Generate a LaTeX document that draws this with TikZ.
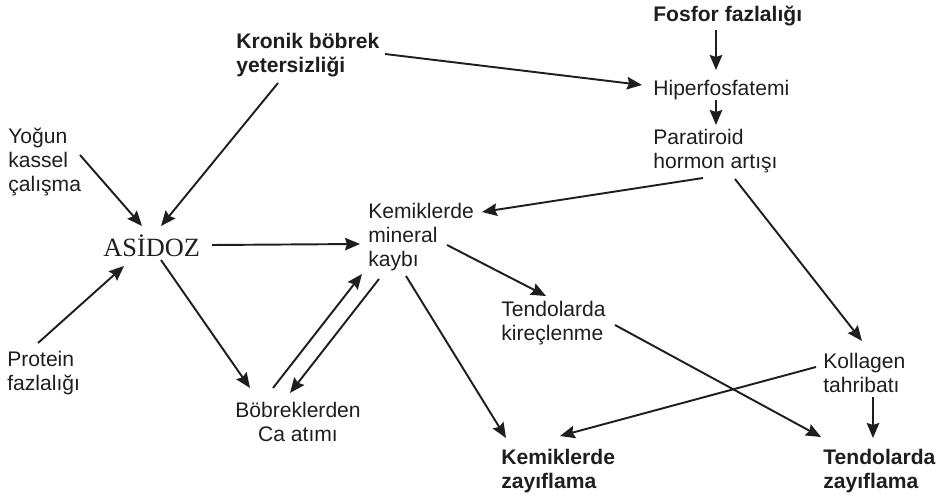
\documentclass[tikz,border=0pt]{standalone}
\usepackage{fontspec}
\setmainfont{Liberation Sans}
\newfontfamily\serifasit{Liberation Serif}
\usepackage{tikz}
\usetikzlibrary{arrows.meta}
\definecolor{ink}{RGB}{30,30,30}

\tikzset{
  lbl/.style={inner sep=0pt,anchor=west,align=left,text=ink,font=\fontsize{12}{13.9}\selectfont},
  lblb/.style={lbl,font=\fontsize{12}{13.9}\selectfont\bfseries},
  arr/.style={draw=ink,line width=1.1pt,-{Stealth[length=0.3cm,width=0.25cm,inset=0.04cm]}}
}

\begin{document}
\begin{tikzpicture}[x=0.02cm,y=-0.02cm]
  \useasboundingbox (0,0) rectangle (944,500);
  % causes
  \node[lblb] (fosfor) at (653,16) {Fosfor fazlalığı};
  \node[lbl] (hiper) at (653,90) {Hiperfosfatemi};
  \node[lbl] (para) at (653,151) {Paratiroid\\hormon artışı};
  \node[lblb] (kronik) at (236,55) {Kronik böbrek\\yetersizliği};
  \node[lbl] (yogun) at (8,162) {Yoğun\\kassel\\çalışma};
  \node[lbl] (protein) at (7,373) {Protein\\fazlalığı};
  \node[inner sep=0pt,anchor=west,text=ink,font=\serifasit\fontsize{15}{17}\selectfont] (asidoz) at (103,246) {ASİDOZ};
  % effects
  \node[lbl] (kemmin) at (368,237) {Kemiklerde\\mineral\\kaybı};
  \node[lbl,anchor=center,align=center] (bobrek) at (298,422) {Böbreklerden\\Ca atımı};
  \node[lbl] (tenkir) at (501,323) {Tendolarda\\kireçlenme};
  \node[lbl] (kollagen) at (823,373) {Kollagen\\tahribatı};
  \node[lblb] (kemzay) at (501,471) {Kemiklerde\\zayıflama};
  \node[lblb] (tenzay) at (823,471) {Tendolarda\\zayıflama};

  \foreach \a/\p/\b/\q in {
    fosfor.west/{63,14}/hiper.west/{63,-20},
    hiper.west/{63,10}/para.west/{63,-26},
    kronik.west/{149,-1}/hiper.west/{-11,-5},
    kronik.west/{42,28}/asidoz.west/{58,-20},
    yogun.west/{72,-7}/asidoz.west/{39,-20},
    protein.west/{31,-30}/asidoz.west/{21,20},
    asidoz.west/{109,-1}/kemmin.west/{-8,7},
    asidoz.west/{58,14}/bobrek.center/{-48,-34},
    bobrek.center/{-25,-34}/kemmin.west/{-6,37},
    kemmin.west/{11,42}/bobrek.center/{-8,-29},
    para.west/{50,27}/kemmin.west/{114,-25},
    para.west/{82,28}/kollagen.west/{39,-32},
    kemmin.west/{79,8}/tenkir.west/{45,-27},
    kemmin.west/{38,39}/kemzay.west/{5,-33},
    tenkir.west/{114,2}/tenzay.west/{-2,-34},
    kollagen.west/{-7,-6}/kemzay.west/{59,-35},
    kollagen.west/{50,24}/tenzay.west/{50,-33}}
    \draw[arr] ([shift={(\p)}]\a) -- ([shift={(\q)}]\b);
\end{tikzpicture}
\end{document}
